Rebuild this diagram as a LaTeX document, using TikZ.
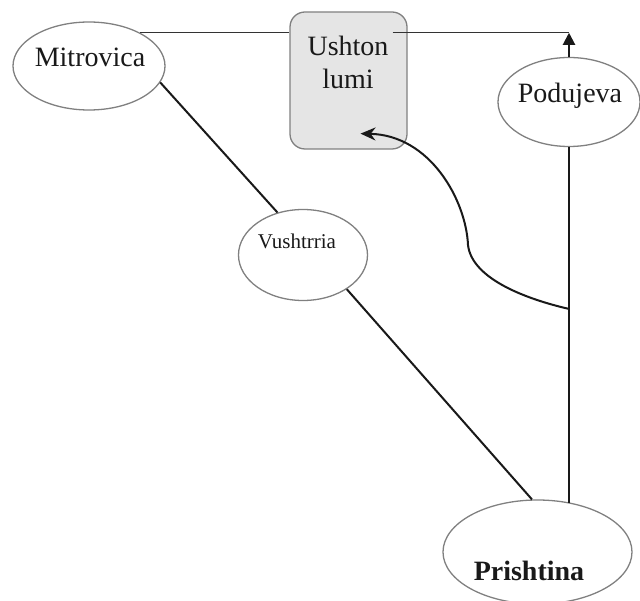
\documentclass[tikz,border=0pt]{standalone}
\usepackage{fontspec}
\setmainfont{Liberation Serif}
\usetikzlibrary{shapes.geometric,arrows.meta,calc}
\tikzset{
  city/.style={ellipse, draw=black!50, line width=1.3pt, inner sep=0pt},
  lbl/.style={anchor=base, inner sep=0pt, text=black!90, font=\fontsize{28}{33}\selectfont},
  road/.style={draw=black!90, line width=2pt},
  thinroad/.style={draw=black!80, line width=1.4pt},
}
\begin{document}
\begin{tikzpicture}[x=1pt,y=-1pt]
\useasboundingbox (0,0) rectangle (640,601);
% nodes
\node[city, minimum width=152pt, minimum height=88pt] (mitro) at (89,66) {};
\node[city, minimum width=129pt, minimum height=91pt] (vush) at (303,255) {};
\node[city, minimum width=142pt, minimum height=89pt] (podu) at (569,102) {};
\node[city, minimum width=189pt, minimum height=104pt] (prish) at (537.5,552) {};
\node[draw=black!50, fill=black!10, line width=1.3pt, rounded corners=15pt,
      minimum width=117pt, minimum height=137pt, inner sep=0pt] (ush) at (348.5,80.5) {};
% labels
\node[lbl] (tmitro) at (90,67) {Mitrovica};
\node[lbl, align=center, anchor=north] (tush) at (348,36) {Ushton\\lumi};
\node[lbl] (tpodu) at (570,103) {Podujeva};
\node[lbl, font=\fontsize{21}{25}\selectfont] (tvush) at (297,249) {Vushtrria};
\node[lbl, font=\fontsize{28}{33}\selectfont\bfseries] (tprish) at (529,580) {Prishtina};
% coordinates
\coordinate (uin) at ([xshift=-15pt]ush.east |- mitro.33);
\coordinate (corner) at (podu.north |- mitro.33);
\coordinate (pbot) at (podu.south |- prish.56);
\coordinate (jn) at ($(podu.south)!0.455!(pbot)$);
\coordinate (ut) at ([shift={(12,-16)}]ush.south);
% connectors
\draw[thinroad] (mitro.33) -- (mitro.33 -| ush.west);
\draw[thinroad] (uin) -- (corner);
\draw[road, -{Triangle[length=12pt,width=12pt]}] (podu.north) -- (corner);
\draw[road] (mitro.-13) -- (vush.121);
\draw[road] (vush.-38) -- (prish.96);
\draw[road] (podu.south) -- (pbot);
\draw[road, -{Stealth[length=15pt,width=13pt]}] (jn) .. controls (530,300) and (472,280) .. (468,245)
  .. controls (466,200) and (430,135) .. (ut);
\end{tikzpicture}
\end{document}
